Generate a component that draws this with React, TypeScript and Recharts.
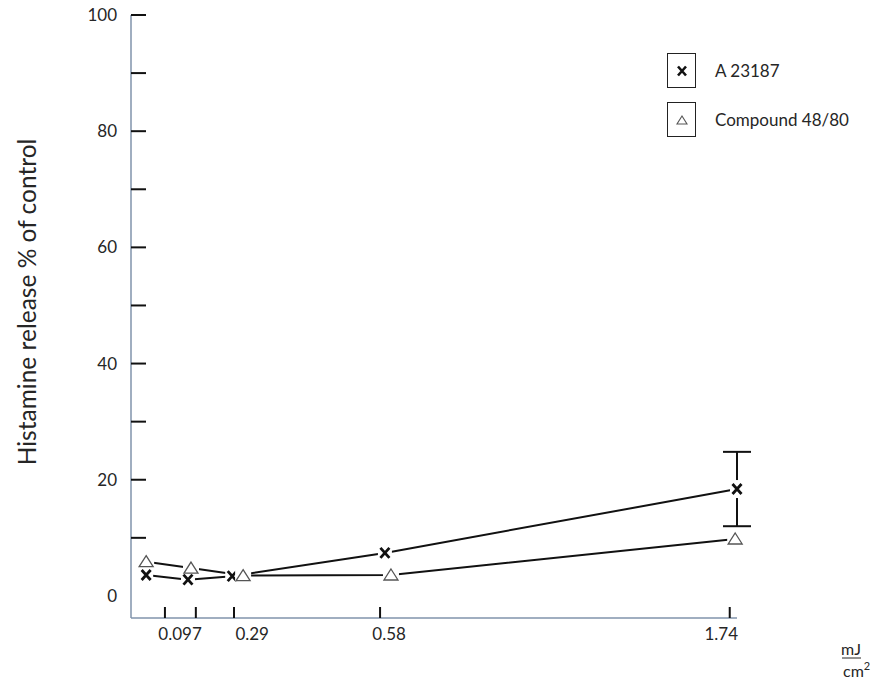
import { ComposedChart, Line, XAxis, YAxis, ErrorBar, Legend } from "recharts";

const FONT = "Lato, 'Open Sans', sans-serif";
const TEXT = "#262626";
const AXIS = "#8193ab";

// positions along the drawn dose axis (0–100 axis units), release in % of control
const a23187X = [2.5, 9.4, 16.7, 41.9, 100];
const a23187Y = [3.6, 2.8, 3.4, 7.4, 18.4];
const a23187Err = [null, null, null, null, 6.4];

const compoundX = [2.5, 9.9, 18.5, 42.9, 99.7];
const compoundY = [5.9, 4.8, 3.5, 3.6, 9.8];

const seriesNames = ["A 23187", "Compound 48/80"];

const xTickMarks = [5.6, 10.7, 17.0, 41.1, 98.8];
const xLabelPositions = [8.1, 20.0, 42.6, 97.4];
const xLabels = ["0.097", "0.29", "0.58", "1.74"];

const yTicks = [0, 10, 20, 30, 40, 50, 60, 70, 80, 90, 100];

const a23187Data = a23187X.map((x, i) => ({ x, y: a23187Y[i], err: a23187Err[i] }));
const compoundData = compoundX.map((x, i) => ({ x, y: compoundY[i] }));

// the axis labels sit beside the tick marks, not under them
const xAllTicks = [...xTickMarks, ...xLabelPositions].sort((a, b) => a - b);

const AXIS_X = 131;
const AXIS_Y = 618;

function CrossDot(props: any) {
  const { cx, cy } = props;
  if (cx == null || cy == null) return null;
  return (
    <g>
      <rect x={cx - 7} y={cy - 9} width={14} height={18} fill="#fff" />
      <path
        d={`M${cx - 4.5},${cy - 5}L${cx + 4.5},${cy + 5}M${cx + 4.5},${cy - 5}L${cx - 4.5},${cy + 5}`}
        stroke="#111"
        strokeWidth={2.8}
      />
    </g>
  );
}

function TriangleDot(props: any) {
  const { cx, cy } = props;
  if (cx == null || cy == null) return null;
  return (
    <g>
      <rect x={cx - 8} y={cy - 6} width={16} height={12} fill="#fff" />
      <polygon
        points={`${cx},${cy - 6} ${cx + 7},${cy + 5} ${cx - 7},${cy + 5}`}
        fill="#fff"
        stroke="#555"
        strokeWidth={1.3}
      />
    </g>
  );
}

function YTick(props: any) {
  const { payload } = props;
  const v = payload.value as number;
  const y = payload.coordinate as number;
  return (
    <g>
      {v > 0 && <line x1={AXIS_X} x2={AXIS_X + 15} y1={y} y2={y} stroke="#111" strokeWidth={2} />}
      {v % 20 === 0 && (
        <text x={AXIS_X - 14} y={y} dy="0.36em" textAnchor="end" fontFamily={FONT} fontSize={17} fill={TEXT}>
          {v}
        </text>
      )}
    </g>
  );
}

function XTick(props: any) {
  const v = props.payload.value as number;
  const x = props.payload.coordinate as number;
  const labelIdx = xLabelPositions.indexOf(v);
  if (labelIdx >= 0) {
    return (
      <text x={x} y={640} textAnchor="middle" fontFamily={FONT} fontSize={17} fill={TEXT}>
        {xLabels[labelIdx]}
      </text>
    );
  }
  return <line x1={x} x2={x} y1={AXIS_Y} y2={AXIS_Y - 11} stroke="#111" strokeWidth={2} />;
}

function LegendBoxes() {
  return (
    <div style={{ fontFamily: FONT, fontSize: 17, color: TEXT }}>
      {seriesNames.map((name, i) => (
        <div key={name} style={{ display: "flex", alignItems: "center", height: 35, marginBottom: 14 }}>
          <div
            style={{
              width: 27,
              height: 33,
              border: "1px solid #222",
              display: "flex",
              alignItems: "center",
              justifyContent: "center",
            }}
          >
            <svg width={14} height={14}>
              {i === 0 ? (
                <path d="M3,2.5L11,11.5M11,2.5L3,11.5" stroke="#111" strokeWidth={2.6} />
              ) : (
                <polygon points="7,3 12,11 2,11" fill="#fff" stroke="#555" strokeWidth={1.1} />
              )}
            </svg>
          </div>
          <span style={{ marginLeft: 19 }}>{name}</span>
        </div>
      ))}
    </div>
  );
}

export default function App() {
  return (
    <div style={{ position: "fixed", left: 0, top: 0, width: 873, height: 679, background: "#fff" }}>
      <ComposedChart width={873} height={679} margin={{ top: 15, right: 136, bottom: 0, left: 0 }}>
        <XAxis
          type="number"
          dataKey="x"
          domain={[0, 100]}
          ticks={xAllTicks}
          height={61}
          tickSize={0}
          tickMargin={0}
          tick={<XTick />}
          interval={0}
          axisLine={{ stroke: AXIS, strokeWidth: 1.5 }}
          tickLine={false}
          label={{
            content: () => (
              <g fontFamily={FONT} fill={TEXT}>
                <text x={851} y={655} textAnchor="middle" fontSize={16}>mJ</text>
                <line x1={842} x2={861} y1={658} y2={658} stroke={TEXT} strokeWidth={1} />
                <text x={843} y={677} fontSize={16}>
                  cm
                  <tspan fontSize={11} dy={-7}>2</tspan>
                </text>
              </g>
            ),
          }}
        />
        <YAxis
          type="number"
          domain={[-3.8, 100]}
          ticks={yTicks}
          width={AXIS_X}
          tickSize={0}
          tickMargin={0}
          tick={<YTick />}
          axisLine={{ stroke: AXIS, strokeWidth: 1.5 }}
          tickLine={false}
          interval={0}
          label={{
            content: () => (
              <text
                x={26}
                y={302}
                transform="rotate(-90 26 302)"
                textAnchor="middle"
                dominantBaseline="central"
                fontFamily={FONT}
                fontSize={24.5}
                fill={TEXT}
              >
                Histamine release % of control
              </text>
            ),
          }}
        />
        <Legend
          layout="horizontal"
          verticalAlign="middle"
          align="center"
          wrapperStyle={{ left: 667, top: 53, width: 200 }}
          content={() => <LegendBoxes />}
        />
        <Line
          data={a23187Data}
          dataKey="y"
          name={seriesNames[0]}
          stroke="#111"
          strokeWidth={2}
          dot={(p: any) => <CrossDot key={`a-${p.index}`} {...p} />}
          activeDot={false}
          isAnimationActive={false}
        >
          <ErrorBar dataKey="err" direction="y" width={14} stroke="#111" strokeWidth={2} isAnimationActive={false} />
        </Line>
        <Line
          data={compoundData}
          dataKey="y"
          name={seriesNames[1]}
          stroke="#111"
          strokeWidth={2}
          dot={(p: any) => <TriangleDot key={`c-${p.index}`} {...p} />}
          activeDot={false}
          isAnimationActive={false}
        />
      </ComposedChart>
    </div>
  );
}
